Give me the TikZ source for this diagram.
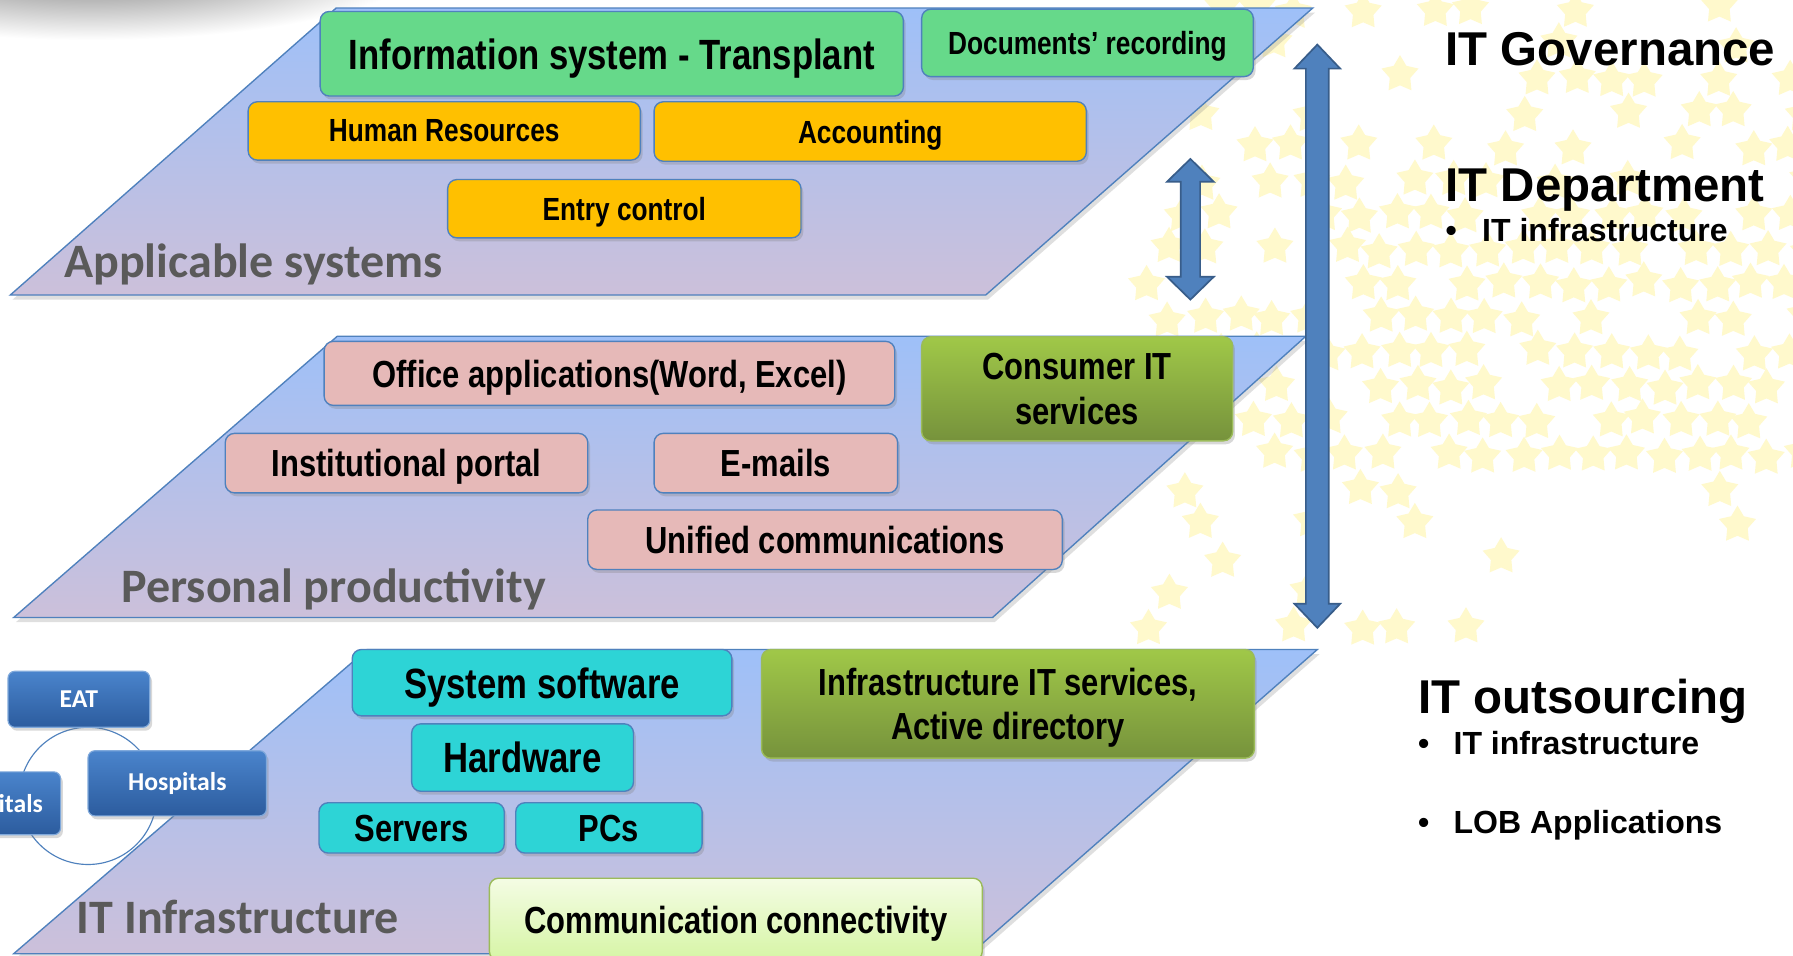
\documentclass[tikz,border=0pt]{standalone}
\usepackage{fontspec}
\setmainfont{Liberation Sans}
\newfontfamily\narrowfont[FakeStretch=0.82]{Liberation Sans}
\newfontfamily\calfont{Carlito}
\usetikzlibrary{shapes.geometric,shadows}

\definecolor{layertop}{RGB}{158,192,248}
\definecolor{layerbot}{RGB}{204,192,218}
\definecolor{layerline}{RGB}{79,129,189}
\definecolor{appgreen}{RGB}{102,217,138}
\definecolor{apporange}{RGB}{255,192,0}
\definecolor{prodpink}{RGB}{230,185,184}
\definecolor{infcyan}{RGB}{45,212,214}
\definecolor{olivetop}{RGB}{160,200,72}
\definecolor{olivebot}{RGB}{118,146,60}
\definecolor{oliveline}{RGB}{155,187,89}
\definecolor{commtop}{RGB}{244,252,228}
\definecolor{commbot}{RGB}{214,245,165}
\definecolor{eattop}{RGB}{74,132,204}
\definecolor{eatbot}{RGB}{44,92,158}
\definecolor{arrowfill}{RGB}{79,129,189}
\definecolor{arrowline}{RGB}{56,93,138}
\definecolor{starfill}{RGB}{255,249,204}
\definecolor{labelgray}{RGB}{90,90,90}

\begin{document}
\begin{tikzpicture}[x = 1pt, y = -1pt,
    plane/.style = {draw = layerline, line width = 1.2pt, top color = layertop, bottom color = layerbot, drop shadow = {shadow xshift = 2pt, shadow yshift = -4pt, opacity = 0.25}},
    planelabel/.style = {anchor = base west, inner sep = 0pt, text = labelgray, font = \calfont\bfseries\fontsize{42}{46}\selectfont},
    box/.style = {draw = layerline, line width = 1.2pt, rounded corners = 8pt, inner sep = 0pt, text depth = 0pt, align = center, drop shadow = {shadow xshift = 2pt, shadow yshift = -3pt, opacity = 0.3}},
    olivebox/.style = {box, draw = oliveline, top color = olivetop, bottom color = olivebot},
    boxbig/.style = {font = \narrowfont\bfseries\fontsize{37}{40}\selectfont},
    boxmid/.style = {font = \narrowfont\bfseries\fontsize{33}{39}\selectfont},
    boxsmall/.style = {font = \narrowfont\bfseries\fontsize{28}{32}\selectfont},
    eatbox/.style = {draw = eattop!70!white, line width = 1pt, rounded corners = 6pt, top color = eattop, bottom color = eatbot, text = white, inner sep = 0pt, font = \calfont\bfseries\fontsize{22.5}{26}\selectfont, drop shadow = {shadow xshift = 2pt, shadow yshift = -3pt, opacity = 0.3}},
    blockarrow/.style = {fill = arrowfill, draw = arrowline, line width = 1.5pt},
    paperstar/.style = {star, star points = 5, star point ratio = 1.8, minimum size = 34pt, inner sep = 0pt, fill = starfill},
    head/.style = {anchor = base west, inner sep = 0pt, font = \bfseries\fontsize{41.5}{46}\selectfont},
    item/.style = {anchor = base west, inner sep = 0pt, font = \bfseries\fontsize{28}{32}\selectfont}]
    \path[use as bounding box] (0,0) rectangle (1568,836);
    \clip (0,0) rectangle (1568,836);
    \fill[white] (0,0) rectangle (1568,836);
    \shade[inner color = black!60, outer color = white] (80,-40) ellipse [x radius = 300, y radius = 75];

    \pgfmathsetseed{12}
    \foreach \r in {0,...,18} {
        \foreach \c in {0,...,18} {
            \pgfmathsetmacro{\sx}{1005+31*\c+mod(\r,2)*15.5+6*rnd-3}
            \pgfmathsetmacro{\sy}{8+30*\r+6*rnd-3}
            \pgfmathsetmacro{\odds}{(\sy < 160) ? 0.45 : ((\sy < 420) ? ((\sx < 1180) ? 0.6 : 0.85) : ((\sx < 1200) ? 0.6 : 0.12))}
            \pgfmathtruncatemacro{\keep}{(rnd < \odds) ? 1 : 0}
            \ifnum\keep=1 \draw (\sx,\sy) node[paperstar](ST\r-\c){}; \fi
        }
    }

    \draw[plane] (9,258) -- (294,7) -- (1148,7) -- (862,258) -- cycle;
    \draw[plane] (12,540) -- (295,294) -- (1142,294) -- (868,540) -- cycle;
    \draw[plane] (12,834) -- (321,568) -- (1152,568) -- (849,834) -- cycle;

    \draw (56,243) node[planelabel](APP){Applicable systems};
    \draw (106,527) node[planelabel](PROD){Personal productivity};
    \draw (67,816) node[planelabel](INFR){IT Infrastructure};

    \draw (535,47) node[box, fill = appgreen, minimum width = 510, minimum height = 74, boxbig](INFO){Information system - Transplant};
    \draw (951,37.5) node[box, fill = appgreen, minimum width = 290, minimum height = 59, boxsmall](DOCS){Documents’ recording};
    \draw (388.5,114.5) node[box, fill = apporange, minimum width = 343, minimum height = 51, boxsmall](HR){Human Resources};
    \draw (761,115) node[box, fill = apporange, minimum width = 378, minimum height = 52, boxsmall](ACC){Accounting};
    \draw (546,182.5) node[box, fill = apporange, minimum width = 309, minimum height = 51, boxsmall](ENTRY){Entry control};

    \draw (533,326.5) node[box, fill = prodpink, minimum width = 499, minimum height = 56, boxmid](OFFICE){Office applications(Word, Excel)};
    \draw (942,340) node[olivebox, minimum width = 272, minimum height = 91, boxmid](CONS){Consumer IT\\services};
    \draw (355.5,405) node[box, fill = prodpink, minimum width = 317, minimum height = 52, boxmid](PORTAL){Institutional portal};
    \draw (678.5,405) node[box, fill = prodpink, minimum width = 213, minimum height = 52, boxmid](MAIL){E-mails};
    \draw (721.5,472) node[box, fill = prodpink, minimum width = 415, minimum height = 52, boxmid](UC){Unified communications};

    \draw (474,597) node[box, fill = infcyan, minimum width = 332, minimum height = 58, boxbig](SYSSW){System software};
    \draw (881.5,615.5) node[olivebox, minimum width = 431, minimum height = 95, boxmid](INFRA){Infrastructure IT services,\\Active directory};
    \draw (457,662.5) node[box, fill = infcyan, minimum width = 194, minimum height = 59, boxbig](HW){Hardware};
    \draw (360,724) node[box, fill = infcyan, minimum width = 162, minimum height = 44, boxmid](SRV){Servers};
    \draw (532.5,724) node[box, fill = infcyan, minimum width = 163, minimum height = 44, boxmid](PC){PCs};
    \draw (643.5,804) node[box, draw = oliveline, top color = commtop, bottom color = commbot, minimum width = 431, minimum height = 72, boxmid](COMM){Communication connectivity};

    \draw[blockarrow] (1041,139) -- (1061.5,159) -- (1049.5,159) -- (1049.5,242) -- (1061.5,242) -- (1041,262) -- (1020.5,242) -- (1032.5,242) -- (1032.5,159) -- (1020.5,159) -- cycle;
    \draw[blockarrow] (1152,39) -- (1172,60) -- (1162,60) -- (1162,528) -- (1172,528) -- (1152,549) -- (1132,528) -- (1142,528) -- (1142,60) -- (1132,60) -- cycle;

    \draw (77,696) node[circle, draw = layerline, line width = 1pt, minimum size = 120, inner sep = 0pt](CYC){};
    \draw (69,611.5) node[eatbox, minimum width = 124, minimum height = 49](EAT){EAT};
    \draw (155,685) node[eatbox, minimum width = 156, minimum height = 57](HOSP){Hospitals};
    \draw (53.5,702.5) node[eatbox, anchor = east, minimum width = 113.5, minimum height = 55, text width = 82.5pt, align = right](HOSP2){itals};

    \draw (1264,57) node[head](GOV){IT Governance};
    \draw (1264,176) node[head](DEP){IT Department};
    \draw (1264,211) node[item](DEP1){\makebox[32pt][l]{•}IT infrastructure};
    \draw (1240,624) node[head](OUT){IT outsourcing};
    \draw (1240,660) node[item](OUT1){\makebox[31pt][l]{•}IT infrastructure};
    \draw (1240,729) node[item](OUT2){\makebox[31pt][l]{•}LOB Applications};
\end{tikzpicture}
\end{document}
